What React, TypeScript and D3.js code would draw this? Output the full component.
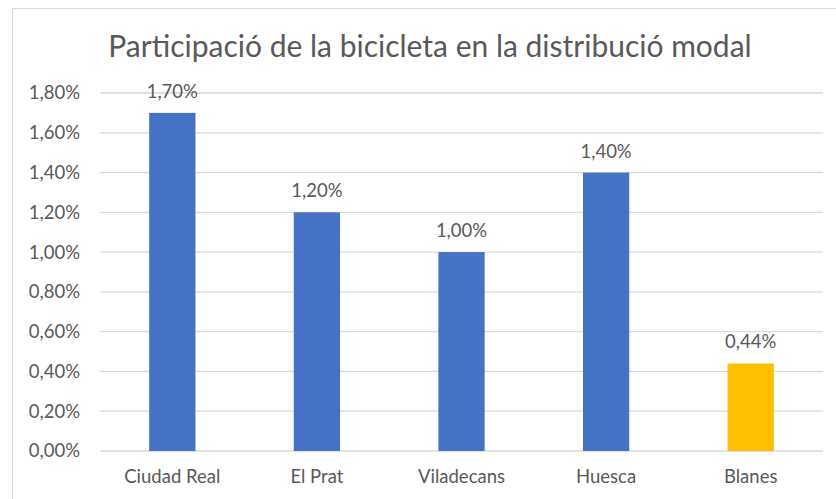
import * as d3 from "d3";

// ── Data ──────────────────────────────────────────────────────────────────────

const CITIES = ["Ciudad Real", "El Prat", "Viladecans", "Huesca", "Blanes"];
const SHARE = [1.7, 1.2, 1.0, 1.4, 0.44];
const Y_TICKS = [0, 0.2, 0.4, 0.6, 0.8, 1.0, 1.2, 1.4, 1.6, 1.8];
const HIGHLIGHT = "Blanes";

// ── Config ────────────────────────────────────────────────────────────────────

const W = 836;
const H = 499;
const PLOT = { left: 100, right: 823, top: 93, bottom: 451 };
const FONT = "Lato, 'Open Sans', sans-serif";
const TEXT = "#595959";
const LABEL_SIZE = 18.5;

const fmt = (v: number) => d3.format(".2f")(v).replace(".", ",") + "%";

// ── Component ─────────────────────────────────────────────────────────────────

export default function App() {
  const x = d3.scaleBand().domain(CITIES).range([PLOT.left, PLOT.right]).paddingInner(0.68).paddingOuter(0.34);
  const y = d3.scaleLinear().domain([0, 1.8]).range([PLOT.bottom, PLOT.top]);

  return (
    <svg width={W} height={H} style={{ position: "absolute", left: 0, top: 0, fontFamily: FONT }}>
      <rect x={0} y={0} width={W} height={H} fill="#fff" />
      <rect x={12.5} y={8.5} width={W + 10} height={H + 10} fill="#fff" stroke="#d9d9d9" />

      <text x={430} y={57} textAnchor="middle" fontSize={30} fill={TEXT}>
        Participació de la bicicleta en la distribució modal
      </text>

      {/* Grid + y labels */}
      {Y_TICKS.map((t) => (
        <g key={t}>
          <line x1={PLOT.left} x2={PLOT.right} y1={y(t)} y2={y(t)} stroke="#d9d9d9" strokeWidth={1.3} />
          <text x={80} y={y(t)} dy="0.35em" textAnchor="end" fontSize={LABEL_SIZE} fill={TEXT}>
            {fmt(t)}
          </text>
        </g>
      ))}

      {/* Bars */}
      {CITIES.map((c, i) => (
        <g key={c}>
          <rect
            x={x(c)}
            y={y(SHARE[i])}
            width={x.bandwidth()}
            height={y(0) - y(SHARE[i])}
            fill={c === HIGHLIGHT ? "#FFC000" : "#4472C4"}
          />
          <text x={(x(c) ?? 0) + x.bandwidth() / 2} y={y(SHARE[i]) - 15} textAnchor="middle" fontSize={LABEL_SIZE} fill={TEXT}>
            {fmt(SHARE[i])}
          </text>
          <text x={(x(c) ?? 0) + x.bandwidth() / 2} y={483} textAnchor="middle" fontSize={LABEL_SIZE} fill={TEXT}>
            {c}
          </text>
        </g>
      ))}
    </svg>
  );
}
